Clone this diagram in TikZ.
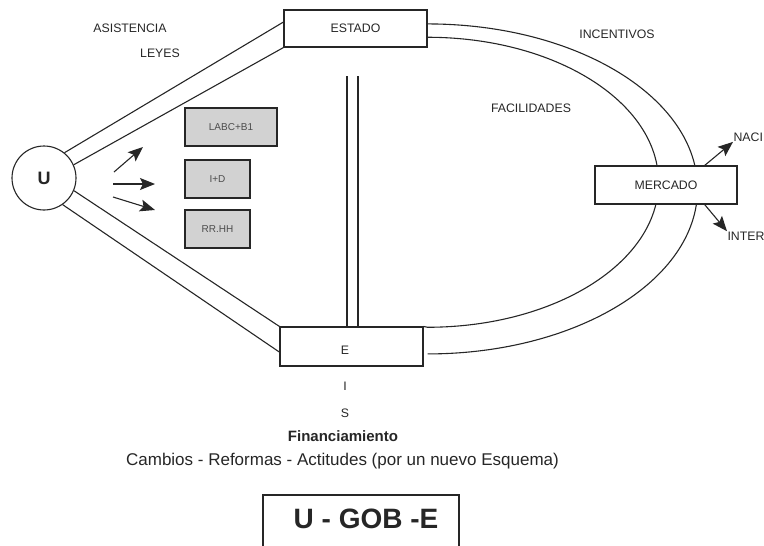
\documentclass[tikz,border=0pt]{standalone}
\usepackage{fontspec}
\setmainfont{Liberation Sans}
\usetikzlibrary{arrows.meta, calc}

\tikzset{
  box/.style={draw, fill=white, minimum width=143pt, minimum height=38pt, inner sep=0pt},
  shbox/.style={draw, fill=gray!35, minimum height=38pt, inner sep=0pt, font=\fontsize{10}{11}\selectfont, text=black!70},
  lbl/.style={font=\fontsize{12.3}{13}\selectfont, inner sep=0pt},
  arr/.style={-{Stealth[length=15pt,width=12pt,inset=3pt]}, line width=1.1pt},
}

\begin{document}
\begin{tikzpicture}[x=1pt, y=-1pt, line width=1.1pt, color=black!85]
  \useasboundingbox (0,0) rectangle (764,546);

  % U and the two boxes
  \node[circle, draw, minimum size=64pt, inner sep=0pt, font=\bfseries\fontsize{18}{18}\selectfont] (U) at (44,178) {U};
  \node[box, minimum height=37pt] (estado) at (355.5,28.5) {};
  \node[lbl] (estlbl) at (355.5,28.5) {ESTADO};
  \node[box, minimum height=39pt] (E) at (351.5,346.5) {};
  \node[lbl] (Elbl) at (345,350) {E};

  \draw (U.51) -- ($(estado.north west)!0.33!(estado.south west)$);
  \draw (U.24) -- (estado.south west);
  \draw (U.-23) -- (E.north west);
  \draw (U.-55) -- ($(E.north west)!0.64!(E.south west)$);

  % double vertical line
  \coordinate (vl) at (347,76);
  \coordinate (vr) at (358,76);
  \draw (vl) -- (vl |- E.north);
  \draw (vr) -- (vr |- E.north);

  % arcs to the market
  \draw ($(estado.north east)!0.38!(estado.south east)$) arc[start angle=-90, end angle=90, x radius=270, y radius=165];
  \draw ($(estado.north east)!0.73!(estado.south east)$) arc[start angle=-90, end angle=90, x radius=231, y radius=145] -- (E.north east);
  \node[box, minimum width=142pt] (mercado) at (666,185) {};
  \node[lbl] (merlbl) at (666,185) {MERCADO};

  \node[lbl, anchor=west] (naci) at (733,137) {NACI};
  \node[lbl, anchor=west] (inter) at (727,236) {INTER};
  \draw[arr] ($(mercado.north west)!0.77!(mercado.north east)$) -- (naci.south west);
  \draw[arr] ($(mercado.south west)!0.77!(mercado.south east)$) -- (inter.north west);

  % shaded boxes
  \node[shbox, minimum width=92pt] (labc) at (231,127) {LABC+B1};
  \node[shbox, minimum width=65pt] (id) at (217.5,179) {I+D};
  \node[shbox, minimum width=65pt] (rrhh) at (217.5,229) {RR.HH};

  \coordinate (a1) at (114,172); \coordinate (b1) at (143,147);
  \coordinate (a2) at (113,184); \coordinate (b2) at (155,184);
  \coordinate (a3) at (113,197); \coordinate (b3) at (155,210);
  \draw[arr] (a1) -- (b1);
  \draw[arr] (a2) -- (b2);
  \draw[arr] (a3) -- (b3);

  % labels
  \node[lbl] (asist) at (130,28) {ASISTENCIA};
  \node[lbl] (leyes) at (160,53) {LEYES};
  \node[lbl] (incent) at (617,34) {INCENTIVOS};
  \node[lbl] (facil) at (531,108) {FACILIDADES};
  \node[lbl] (Ilbl) at (345,386) {I};
  \node[lbl] (Slbl) at (345,413) {S};
  \node[font=\bfseries\fontsize{15}{16}\selectfont] (fin) at (343,436) {Financiamiento};
  \node[font=\fontsize{17}{18}\selectfont] (camb) at (342.5,461) {Cambios - Reformas - Actitudes (por un nuevo Esquema)};

  \draw (263,560) |- (459,495) -- (459,560);
  \node[font=\bfseries\fontsize{28}{30}\selectfont] (gob) at (366,519) {U - GOB -E};
\end{tikzpicture}
\end{document}
